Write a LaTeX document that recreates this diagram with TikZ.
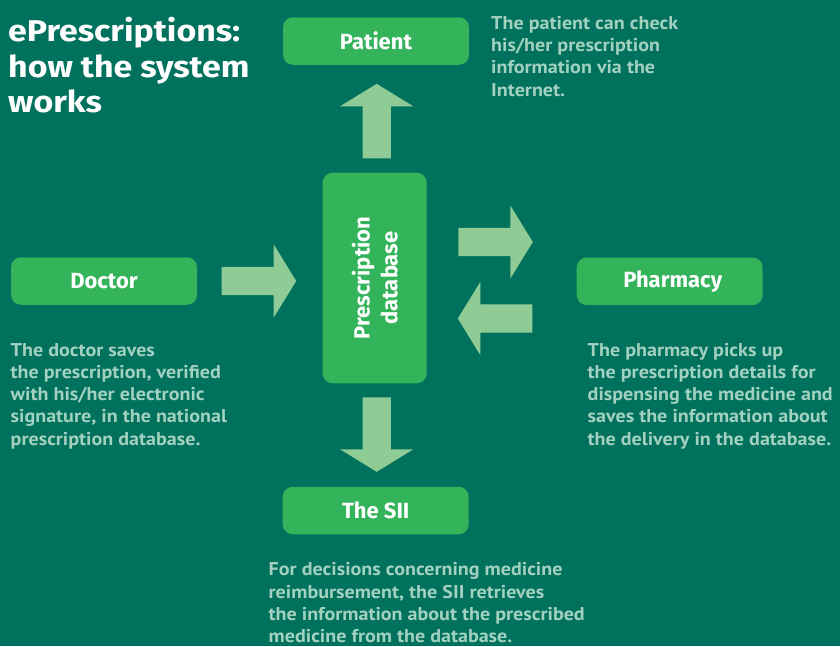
\documentclass[tikz,border=0pt]{standalone}
\usepackage{fontspec}
\setmainfont{Fira Sans}
\newfontfamily\titlefont[FakeStretch=1.13]{Fira Sans}
\newfontfamily\descfont[FakeStretch=1.085]{PT Sans}
\definecolor{bg}{HTML}{00715D}
\definecolor{boxgreen}{HTML}{33B35A}
\definecolor{arrowgreen}{HTML}{8FCC95}
\definecolor{desctext}{HTML}{A2D1BF}
\begin{document}
\begin{tikzpicture}[x=1pt,y=-1pt,
  box/.style={rectangle, rounded corners=10pt, fill=boxgreen, text=white,
    font=\bfseries\fontsize{22}{27.7}\selectfont, minimum width=186pt,
    minimum height=47.5pt, inner sep=0pt},
  desc/.style={text=desctext, font=\descfont\bfseries\fontsize{18.5}{22.3}\selectfont,
    align=left, inner sep=0pt, anchor=base west},
  titletext/.style={text=white, font=\titlefont\bfseries\fontsize{30}{35.5}\selectfont,
    align=left, inner sep=0pt, anchor=base west},
  fatarrow/.pic={\fill[arrowgreen] (0,-14.2) -- (52,-14.2) -- (52,-36.6) -- (74.5,0)
    -- (52,36.6) -- (52,14.2) -- (0,14.2) -- cycle;}]
% background and page size
\fill[bg] (0,0) rectangle (840,646);
\useasboundingbox (0,0) rectangle (840,646);

% multi-line nodes are anchored at the baseline of their last line
\node[titletext] (title) at (8,112.7) {ePrescriptions:\\how the system\\works};

% boxes
\node[box] (patient) at (376,41) {Patient};
\node[box] (doctor) at (104,281) {Doctor};
\node[box] (pharmacy) at (669.7,281.3) {\hspace*{6pt}Pharmacy};
\node[box] (sii) at (375.7,510.5) {The SII};
\node[box, rotate=90, minimum width=210.6pt, minimum height=104pt, align=center] (db)
  at (374.7,278) {Prescription\\database};

% flow arrows
\pic at (221.7,281) {fatarrow};
\pic[rotate=0] at (458.3,242) {fatarrow};
\pic[rotate=180] at (532.3,318.5) {fatarrow};
\pic[rotate=90] at (376.7,158.3) {fatarrow};
\pic[rotate=-90] at (376.7,397.3) {fatarrow};

% explanations
\node[desc] (patientnote) at (491,96.2) {The patient can check\\his/her prescription\\information via the\\Internet.};
\node[desc] (doctornote) at (10.5,445.2) {The doctor saves\\the prescription, verified\\with his/her electronic\\signature, in the national\\prescription database.};
\node[desc] (pharmacynote) at (587.5,445.2) {The pharmacy picks up\\the prescription details for\\dispensing the medicine and\\saves the information about\\the delivery in the database.};
\node[desc] (siinote) at (268.5,642.6) {For decisions concerning medicine\\reimbursement, the SII retrieves\\the information about the prescribed\\medicine from the database.};
\end{tikzpicture}
\end{document}
